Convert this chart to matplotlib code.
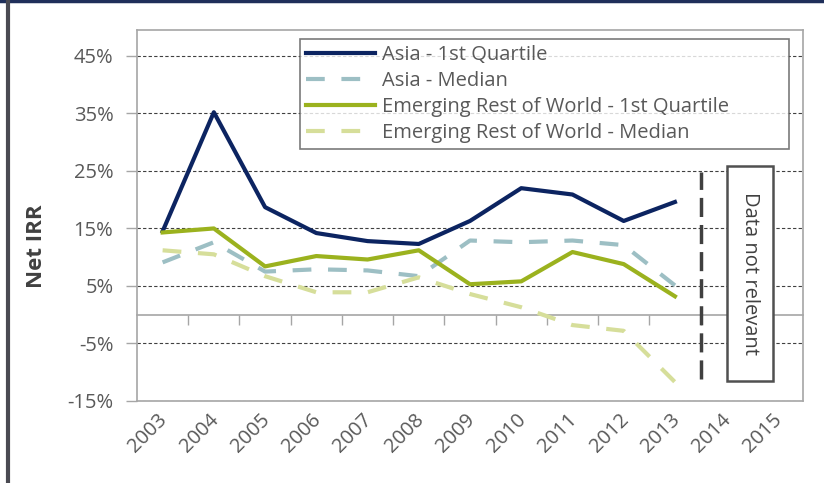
import matplotlib.pyplot as plt
from matplotlib.lines import Line2D
from matplotlib.patches import Rectangle
from matplotlib.transforms import ScaledTranslation

years = ['2003', '2004', '2005', '2006', '2007', '2008', '2009',
         '2010', '2011', '2012', '2013', '2014', '2015']

# Net IRR (%) by vintage, data only up to 2013
asia_q1 = [14.5, 35.2, 18.7, 14.2, 12.8, 12.3, 16.3, 22.0, 20.9, 16.3, 19.6]
asia_med = [9.1, 12.6, 7.5, 7.9, 7.7, 6.7, 12.9, 12.6, 12.9, 12.1, 5.1]
erow_q1 = [14.3, 15.0, 8.4, 10.2, 9.6, 11.2, 5.3, 5.8, 10.9, 8.8, 3.2]
erow_med = [11.2, 10.5, 6.7, 3.9, 3.9, 6.5, 3.6, 1.3, -1.8, -2.8, -11.7]

yticks = [-15, -5, 5, 15, 25, 35, 45]

gray_txt = '#595959'
dark = '#404040'
frame = '#a6a6a6'

plt.rcParams['font.family'] = ['Open Sans', 'DejaVu Sans']

fig = plt.figure(figsize=(8.24, 4.83), dpi=100)
ax = fig.add_axes([137 / 824, 1 - 401 / 483, 666 / 824, 371 / 483])

x = list(range(len(asia_q1)))
dash = (0, (4.5, 4))
ax.plot(x, asia_q1, color='#0c2461', lw=3, label='Asia - 1st Quartile', zorder=4)
ax.plot(x, asia_med, color='#9dbfc4', lw=3, ls=dash, label='Asia - Median', zorder=3)
ax.plot(x, erow_q1, color='#9bb21e', lw=3, label='Emerging Rest of World - 1st Quartile', zorder=4)
ax.plot(x, erow_med, color='#d6de9a', lw=3, ls=dash, label='Emerging Rest of World - Median', zorder=3)

ax.set_xlim(-0.5, len(years) - 0.5)
ax.set_ylim(-15, 49.5)

# y axis
ax.set_yticks(yticks)
ax.set_yticklabels([f'{v}%' for v in yticks])
ax.tick_params('y', direction='out', length=8, width=1, color=frame,
               labelcolor=gray_txt, labelsize=14.5, pad=9)
ax.grid(True, axis='y', ls=(0, (3, 2)), lw=0.8, color=dark, zorder=0)
ax.set_axisbelow(True)

# x labels under the plot area
ax.set_xticks(range(len(years)))
ax.set_xticklabels(years, rotation=45, ha='right', va='top')
ax.tick_params('x', length=0, labelcolor=gray_txt, labelsize=14.5, pad=6.5)
shift = ScaledTranslation(9 / 100, 0, fig.dpi_scale_trans)
for lab in ax.get_xticklabels():
    lab.set_transform(lab.get_transform() + shift)

for spine in ax.spines.values():
    spine.set_color(frame)
    spine.set_linewidth(1.2)

# horizontal axis line at zero with category tick marks
zero = ax.secondary_xaxis(0, transform=ax.transData)
zero.set_xticks([i - 0.5 for i in range(1, len(years))])
zero.set_xticklabels([])
zero.tick_params(direction='out', length=7, width=1, color=frame)
zero.spines['bottom'].set_color(frame)
zero.spines['bottom'].set_linewidth(1.2)

# cut-off marker and note
ax.vlines(len(asia_q1) - 0.5, -11.2, 24.8, colors=dark, lw=2.5,
          linestyles=(0, (5.5, 2.3)), zorder=5)
ax.add_patch(Rectangle((11.02, -11.6), 0.9, 37.4, fc='white', ec='#505050',
                       lw=1.8, zorder=6))
ax.text(11.46, 7.2, 'Data not relevant', rotation=270, ha='center', va='center',
        fontsize=14.5, color=dark, zorder=7)

leg = ax.legend(loc='upper left', bbox_to_anchor=(163 / 666, 1 - 9 / 371, 489 / 666, 0),
                mode='expand', fontsize=14.5, handlelength=3.4, handletextpad=0.35,
                labelspacing=0.3, borderpad=0.3, borderaxespad=0,
                frameon=True, fancybox=False)
leg.get_frame().set_edgecolor('#595959')
leg.get_frame().set_linewidth(1.2)
for t in leg.get_texts():
    t.set_color(gray_txt)

fig.text(36 / 824, 1 - 246 / 483, 'Net IRR', rotation=90, ha='center', va='center',
         fontsize=16, fontweight='bold', color=dark)

# outer border of the slide panel
fig.add_artist(Line2D([0, 1], [0.997, 0.997], color='#1f2f5a', lw=2.5, transform=fig.transFigure))
fig.add_artist(Line2D([8 / 824, 8 / 824], [0, 1], color='#4a4a52', lw=3, transform=fig.transFigure))

fig.savefig('out.png', dpi=100)
